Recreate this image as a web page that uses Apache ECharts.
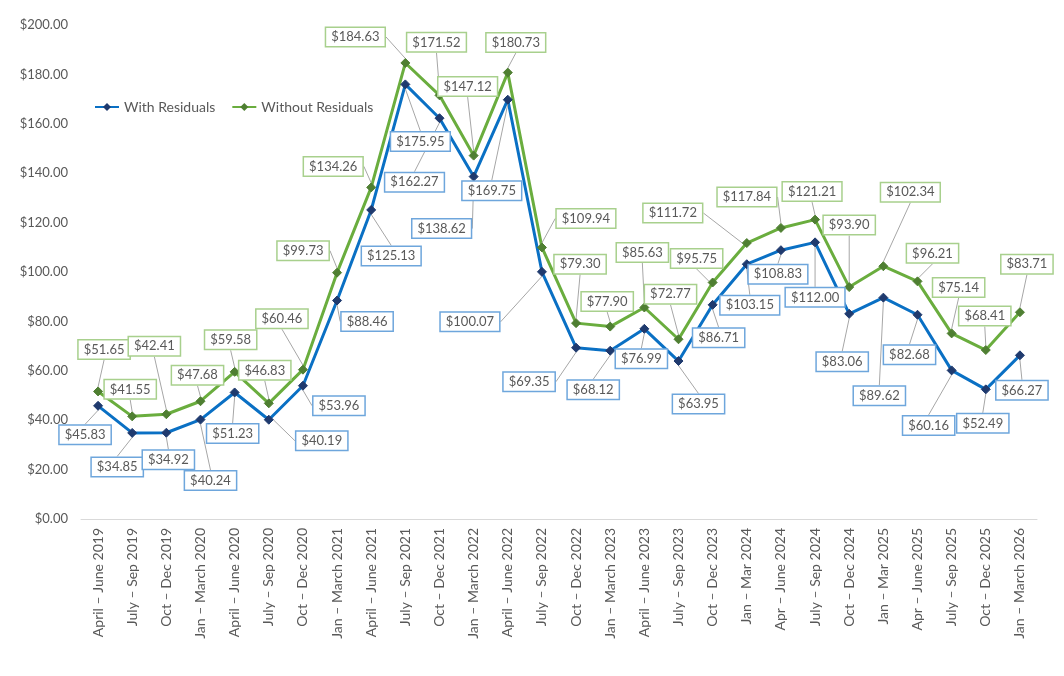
<!DOCTYPE html>
<html>
<head>
<meta charset="utf-8">
<script src="https://cdn.jsdelivr.net/npm/echarts@6/dist/echarts.min.js"></script>
<style>
  html, body { margin: 0; padding: 0; background: #fff; }
  #chart { width: 1064px; height: 676px; }
</style>
</head>
<body>
<div id="chart"></div>
<script>
var categories = [
  'April – June 2019', 'July – Sep 2019', 'Oct – Dec 2019', 'Jan – March 2020',
  'April – June 2020', 'July – Sep 2020', 'Oct – Dec 2020', 'Jan – March 2021',
  'April – June 2021', 'July – Sep 2021', 'Oct – Dec 2021', 'Jan – March 2022',
  'April – June 2022', 'July – Sep 2022', 'Oct – Dec 2022', 'Jan – March 2023',
  'April – June 2023', 'July – Sep 2023', 'Oct – Dec 2023', 'Jan – Mar 2024',
  'Apr – June 2024', 'July – Sep 2024', 'Oct – Dec 2024', 'Jan – Mar 2025',
  'Apr – June 2025', 'July – Sep 2025', 'Oct – Dec 2025', 'Jan – March 2026'
];
var withResiduals = [
  45.83, 34.85, 34.92, 40.24, 51.23, 40.19, 53.96, 88.46, 125.13, 175.95,
  162.27, 138.62, 169.75, 100.07, 69.35, 68.12, 76.99, 63.95, 86.71, 103.15,
  108.83, 112.00, 83.06, 89.62, 82.68, 60.16, 52.49, 66.27
];
var withoutResiduals = [
  51.65, 41.55, 42.41, 47.68, 59.58, 46.83, 60.46, 99.73, 134.26, 184.63,
  171.52, 147.12, 180.73, 109.94, 79.30, 77.90, 85.63, 72.77, 95.75, 111.72,
  117.84, 121.21, 93.90, 102.34, 96.21, 75.14, 68.41, 83.71
];

// label box centre offsets from each point (px)
var withOffsets = [
  [-13, 29], [-15, 34], [2, 27], [10, 61], [-2, 41], [53, 21], [36, 20], [30, 21],
  [20, 46], [15, 57], [-25, 64], [-32, 52], [-16, 91], [-72, 50], [-47, 34],
  [-17, 39], [-3, 30], [20, 43], [6, 33], [3, 41], [-3, 24], [0, 55], [-7, 48],
  [-4, 98], [-8, 40], [-23, 55], [-3, 34], [2, 35]
];
var withoutOffsets = [
  [6, -42], [-2, -27], [-12, -68], [-3, -26], [-4, -32], [-4, -33], [-21, -51],
  [-34, -22], [-38, -21], [-50, -26], [-3, -53], [-6, -69], [8, -30], [44, -29],
  [4, -59], [-3, -25], [-2, -55], [-8, -45], [-16, -24], [-74, -30], [-34, -31],
  [-3, -28], [0, -62], [27, -74], [15, -28], [7, -46], [-1, -34], [7, -48]
];

var textColor = '#595959';
var fontFamily = 'Lato, "Open Sans", sans-serif';

function money(v) { return '$' + Number(v).toFixed(2); }

function makeSeries(name, data, offsets, lineColor, markColor, boxColor) {
  return {
    name: name,
    type: 'line',
    data: data,
    symbol: 'diamond',
    symbolSize: 9,
    lineStyle: { color: lineColor, width: 3 },
    itemStyle: { color: markColor, borderColor: markColor },
    label: {
      show: true,
      position: 'inside',
      formatter: function(p) { return money(p.value); },
      color: textColor,
      fontSize: 13,
      fontFamily: fontFamily,
      backgroundColor: '#fff',
      borderColor: boxColor,
      borderWidth: 1.5,
      padding: [3, 5, 2, 5]
    },
    labelLine: { show: true, lineStyle: { color: '#a6a6a6', width: 1 } },
    labelLayout: function(params) {
      var o = offsets[params.dataIndex];
      var r = params.rect;
      return {
        x: r.x + r.width / 2 + o[0],
        y: r.y + r.height / 2 + o[1],
        align: 'center',
        verticalAlign: 'middle'
      };
    },
    emphasis: { disabled: true }
  };
}

var chart = echarts.init(document.getElementById('chart'), null, { renderer: 'canvas' });
chart.setOption({
  animation: false,
  textStyle: { fontFamily: fontFamily },
  legend: {
    left: 89,
    top: 95,
    itemWidth: 24,
    itemHeight: 10,
    itemGap: 16,
    textStyle: { color: textColor, fontSize: 14, fontFamily: fontFamily },
    data: ['With Residuals', 'Without Residuals']
  },
  grid: { left: 81, right: 27, top: 25, bottom: 157, containLabel: false },
  xAxis: {
    type: 'category',
    data: categories,
    boundaryGap: true,
    axisLine: { lineStyle: { color: '#d9d9d9', width: 1 } },
    axisTick: { show: false },
    axisLabel: {
      rotate: 90,
      interval: 0,
      margin: 9,
      color: textColor,
      fontSize: 14,
      fontFamily: fontFamily
    }
  },
  yAxis: {
    type: 'value',
    min: 0,
    max: 200,
    interval: 20,
    axisLine: { show: false },
    axisTick: { show: false },
    splitLine: { show: false },
    axisLabel: {
      margin: 13,
      color: textColor,
      fontSize: 13,
      fontFamily: fontFamily,
      formatter: money
    }
  },
  series: [
    makeSeries('With Residuals', withResiduals, withOffsets, '#0a70c4', '#1f3a6e', '#6ea6dc'),
    makeSeries('Without Residuals', withoutResiduals, withoutOffsets, '#6aad3e', '#4f7f32', '#a8d08d')
  ]
});
</script>
</body>
</html>
